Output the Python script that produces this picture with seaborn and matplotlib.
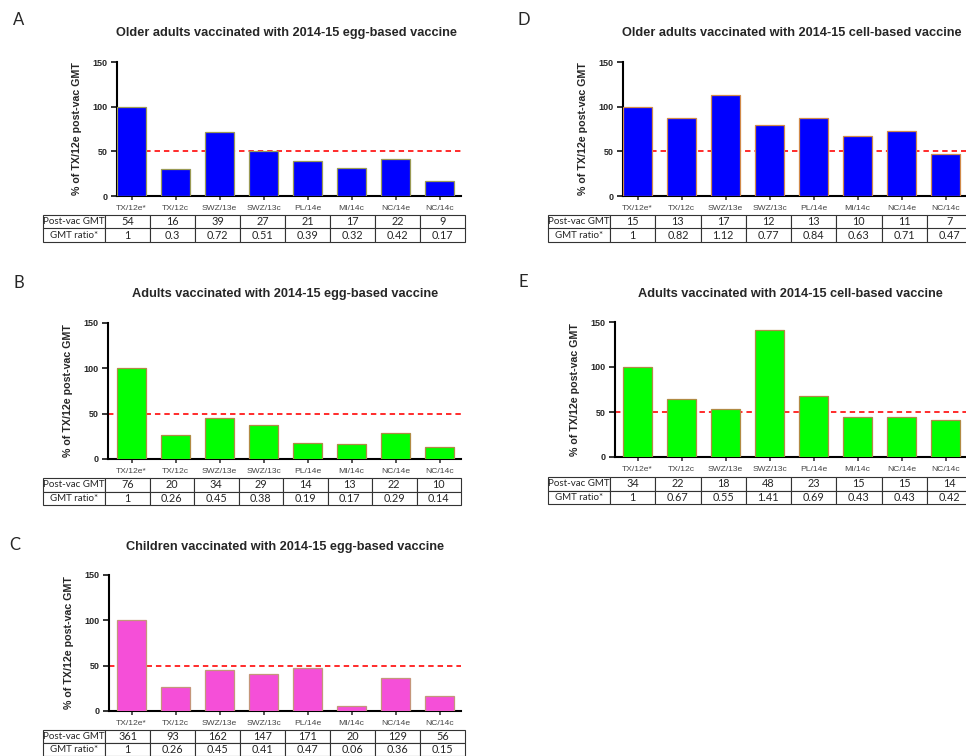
import numpy as np
import pandas as pd
import matplotlib
matplotlib.use("Agg")
import matplotlib.pyplot as plt
import seaborn as sns

# ---------------- data ----------------
strains = ["TX/12e*", "TX/12c", "SWZ/13e", "SWZ/13c", "PL/14e", "MI/14c", "NC/14e", "NC/14c"]
row_labels = ["Post-vac GMT", "GMT ratio*"]

titles = {
    "A": "Older adults vaccinated with 2014-15 egg-based vaccine",
    "B": "Adults vaccinated with 2014-15 egg-based vaccine",
    "C": "Children vaccinated with 2014-15 egg-based vaccine",
    "D": "Older adults vaccinated with 2014-15 cell-based vaccine",
    "E": "Adults vaccinated with 2014-15 cell-based vaccine",
}

pct_A = [100, 30, 72, 50, 39, 31, 41, 17]
gmt_A = ["54", "16", "39", "27", "21", "17", "22", "9"]
ratio_A = ["1", "0.3", "0.72", "0.51", "0.39", "0.32", "0.42", "0.17"]

pct_B = [100, 26, 45, 38, 18, 17, 29, 13]
gmt_B = ["76", "20", "34", "29", "14", "13", "22", "10"]
ratio_B = ["1", "0.26", "0.45", "0.38", "0.19", "0.17", "0.29", "0.14"]

pct_C = [100, 26, 45, 41, 47, 6, 36, 16]
gmt_C = ["361", "93", "162", "147", "171", "20", "129", "56"]
ratio_C = ["1", "0.26", "0.45", "0.41", "0.47", "0.06", "0.36", "0.15"]

pct_D = [100, 87, 113, 80, 87, 67, 73, 47]
gmt_D = ["15", "13", "17", "12", "13", "10", "11", "7"]
ratio_D = ["1", "0.82", "1.12", "0.77", "0.84", "0.63", "0.71", "0.47"]

pct_E = [100, 65, 53, 141, 68, 44, 44, 41]
gmt_E = ["34", "22", "18", "48", "23", "15", "15", "14"]
ratio_E = ["1", "0.67", "0.55", "1.41", "0.69", "0.43", "0.43", "0.42"]

threshold = 50

# ---------------- styling / layout ----------------
sns.set_style("ticks")
plt.rcParams["font.family"] = ["Liberation Sans", "DejaVu Sans"]

W, H = 966, 756
fig = plt.figure(figsize=(W / 100, H / 100), dpi=100)


def px_axes(left, top, right, bottom):
    return fig.add_axes([left / W, 1 - bottom / H, (right - left) / W, (bottom - top) / H])


PITCH = 44.0  # px per category
panels = [
    ("A", pct_A, gmt_A, ratio_A, "#0000FF", "#9a9a55", (117, 62, 461, 196), 117, (43, 215, 465, 242), (19, 20), (286, 33)),
    ("B", pct_B, gmt_B, ratio_B, "#00FF00", "#b08a45", (108, 323, 461, 459), 117, (43, 478, 461, 505), (19, 283), (285, 294)),
    ("C", pct_C, gmt_C, ratio_C, "#F54FD8", "#c4967a", (109, 575, 461, 711), 117, (43, 730, 465, 756), (15, 545), (285, 547)),
    ("D", pct_D, gmt_D, ratio_D, "#0000FF", "#d08a4a", (623, 62, 968, 196), 623, (548, 215, 972, 242), (524, 20), (792, 33)),
    ("E", pct_E, gmt_E, ratio_E, "#00FF00", "#b08a45", (615, 322, 968, 457), 623, (548, 477, 972, 504), (523, 282), (790, 294)),
]

for key, pct, gmt, ratio, color, edge, (al, at, ar, ab), barleft, (tl, tt, tr, tb), (lx, ly), (tx, ty) in panels:
    ax = px_axes(al, at, ar, ab)
    df = pd.DataFrame({"strain": strains, "pct": pct})
    bw = 29 / PITCH
    sns.barplot(data=df, x="strain", y="pct", color=color, saturation=1,
                edgecolor=edge, linewidth=0.9, width=bw, ax=ax, zorder=3)
    xl = -bw / 2 - (barleft - al) / PITCH
    xr = xl + (ar - al) / PITCH
    ax.axhline(threshold, color="#ff1a1a", ls=(0, (3, 2.2)), lw=1.3, zorder=1)
    ax.set_xlim(xl, xr)
    ax.set_ylim(0, 150)
    ax.set_yticks([0, 50, 100, 150])
    ax.set_xlabel("")
    ax.set_ylabel("% of TX/12e post-vac GMT", fontsize=7.7, fontweight="bold", labelpad=7)
    for s in ["top", "right"]:
        ax.spines[s].set_visible(False)
    for s in ["left", "bottom"]:
        ax.spines[s].set_linewidth(1.5)
        ax.spines[s].set_color("black")
    ax.tick_params(axis="y", direction="out", length=4, width=1.3, labelsize=6.5, pad=3)
    ax.tick_params(axis="x", direction="out", length=3, width=1.1, labelsize=6.1, pad=3.5,
                   labelcolor="#444444")
    for t in ax.get_yticklabels():
        t.set_fontweight("bold")
    ax.set_facecolor("none")

    fig.text(tx / W, 1 - ty / H, titles[key], ha="center", va="center",
             fontsize=9.2, fontweight="bold")
    fig.text(lx / W, 1 - ly / H, key, ha="center", va="center", fontsize=12,
             family=["Lato", "DejaVu Sans"])

    tax = px_axes(tl, tt, tr, tb)
    tax.axis("off")
    total = (tr - tl)
    first = 62.0
    rest = (total - first) / 8
    widths = [first / total] + [rest / total] * 8
    cells = [[row_labels[0]] + list(gmt), [row_labels[1]] + list(ratio)]
    tbl = tax.table(cellText=cells, bbox=[0, 0, 1, 1], colWidths=widths, cellLoc="center")
    tbl.auto_set_font_size(False)
    for (r, c), cell in tbl.get_celld().items():
        cell.set_linewidth(0.8)
        cell.set_edgecolor("#333333")
        cell.get_text().set_fontsize(7.0 if c == 0 else 7.8)
        cell.get_text().set_family(["Lato", "DejaVu Sans"])
        cell.PAD = 0.01

fig.savefig("out.png", dpi=100, facecolor="white")
